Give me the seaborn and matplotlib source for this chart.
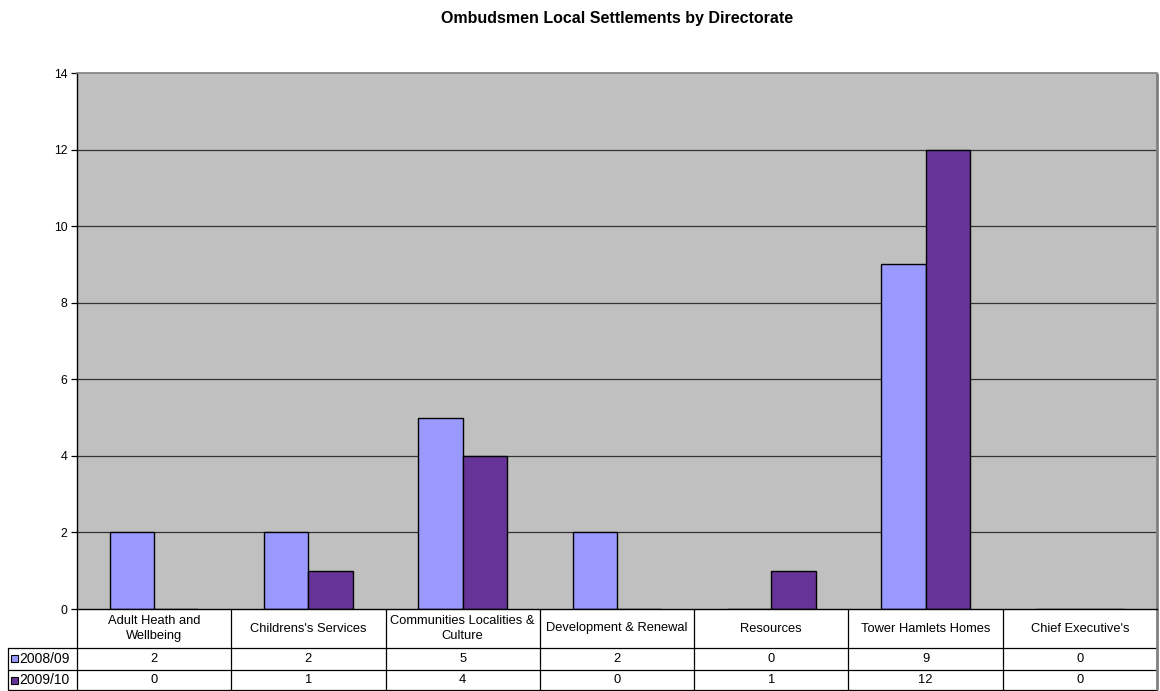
import textwrap
import matplotlib
matplotlib.use("Agg")
import matplotlib.pyplot as plt
from matplotlib.patches import Rectangle
import pandas as pd
import seaborn as sns

directorates = [
    "Adult Heath and Wellbeing",
    "Childrens's Services",
    "Communities Localities & Culture",
    "Development & Renewal",
    "Resources",
    "Tower Hamlets Homes",
    "Chief Executive's",
]
years = ["2008/09", "2009/10"]
settlements_0809 = [2, 2, 5, 2, 0, 9, 0]
settlements_0910 = [0, 1, 4, 0, 1, 12, 0]
year_colors = ["#9999FF", "#663399"]
y_ticks = [0, 2, 4, 6, 8, 10, 12, 14]

df = pd.DataFrame({
    "Directorate": directorates * 2,
    "Year": [years[0]] * len(directorates) + [years[1]] * len(directorates),
    "Settlements": settlements_0809 + settlements_0910,
})

sns.set_theme(style="white")
plt.rcParams["font.family"] = ["Liberation Sans", "DejaVu Sans"]
plt.rcParams["text.color"] = "black"
plt.rcParams["ytick.color"] = "black"
plt.rcParams["ytick.labelcolor"] = "black"

W, H = 1160, 691
fig = plt.figure(figsize=(W / 100, H / 100), dpi=100)
left_px, right_px, top_px, bottom_px = 77, 1157, 73, 609
ax = fig.add_axes([left_px / W, 1 - bottom_px / H,
                   (right_px - left_px) / W, (bottom_px - top_px) / H])
ax.set_facecolor("#C0C0C0")

sns.barplot(data=df, x="Directorate", y="Settlements", hue="Year",
            order=directorates, hue_order=years, palette=year_colors,
            width=0.574, edgecolor="black", linewidth=1.0, saturation=1,
            legend=False, ax=ax)

ax.set_xlim(-0.5, len(directorates) - 0.5)
ax.set_ylim(0, 14)
ax.set_yticks(y_ticks)
ax.set_yticklabels([str(t) for t in y_ticks], fontsize=8.8, color="black")
ax.set_xticks([])
ax.set_xlabel("")
ax.set_ylabel("")
ax.tick_params(axis="y", direction="out", length=4, width=0.9,
               color="black", pad=3, left=True)
for t in y_ticks[1:-1]:
    ax.axhline(t, color="#333333", linewidth=0.9, zorder=0.5)

ax.spines["left"].set_color("black")
ax.spines["left"].set_linewidth(1.0)
ax.spines["top"].set_color("#808080")
ax.spines["top"].set_linewidth(1.2)
ax.spines["right"].set_visible(False)
ax.spines["bottom"].set_color("black")
ax.spines["bottom"].set_linewidth(1.0)

fig.text((left_px + right_px) / 2 / W, 1 - 18 / H,
         "Ombudsmen Local Settlements by Directorate",
         ha="center", va="center", fontsize=11.5, fontweight="bold",
         color="black")

# data table beneath the plot area, in axes coordinates
ax_h_px = bottom_px - top_px
ax_w_px = right_px - left_px
ncol = len(directorates)
header_bot = -39 / ax_h_px
row1_bot = -61 / ax_h_px
row2_bot = -81 / ax_h_px
label_left = (8 - left_px) / ax_w_px
line_kw = dict(transform=ax.transAxes, color="black", linewidth=0.9,
               clip_on=False)

# horizontal rules
ax.plot([0, 1], [header_bot, header_bot], **line_kw)
ax.plot([label_left, 0], [header_bot, header_bot], **line_kw)
ax.plot([label_left, 1], [row1_bot, row1_bot], **line_kw)
ax.plot([label_left, 1], [row2_bot, row2_bot], **line_kw)
# vertical rules
for i in range(ncol):
    x = i / ncol
    ax.plot([x, x], [0, row2_bot], **line_kw)
ax.plot([label_left, label_left], [header_bot, row2_bot], **line_kw)
# grey outer edge on the right running down past the table
ax.plot([1, 1], [1, row2_bot], transform=ax.transAxes, color="#808080",
        linewidth=2.0, clip_on=False, solid_capstyle="butt")

text_kw = dict(transform=ax.transAxes, ha="center", va="center",
               fontsize=9.3, color="black", clip_on=False)
for i, name in enumerate(directorates):
    xc = (i + 0.5) / ncol
    ax.text(xc, header_bot / 2, textwrap.fill(name, 24), linespacing=1.3,
            **text_kw)
    ax.text(xc, (header_bot + row1_bot) / 2, str(settlements_0809[i]), **text_kw)
    ax.text(xc, (row1_bot + row2_bot) / 2, str(settlements_0910[i]), **text_kw)

row_centers = [(header_bot + row1_bot) / 2, (row1_bot + row2_bot) / 2]
for yr, col, yc in zip(years, year_colors, row_centers):
    ax.text((19 - left_px) / ax_w_px, yc, yr, transform=ax.transAxes,
            ha="left", va="center", fontsize=10, color="black", clip_on=False)
    # legend key square, sized in pixels
    y_px = top_px + ax_h_px * (1 - yc)
    sq = Rectangle((11 / W, 1 - (y_px + 3.5) / H), 7 / W, 7 / H,
                   transform=fig.transFigure, facecolor=col,
                   edgecolor="black", linewidth=0.8, clip_on=False)
    fig.patches.append(sq)

fig.savefig("out.png", dpi=100)
